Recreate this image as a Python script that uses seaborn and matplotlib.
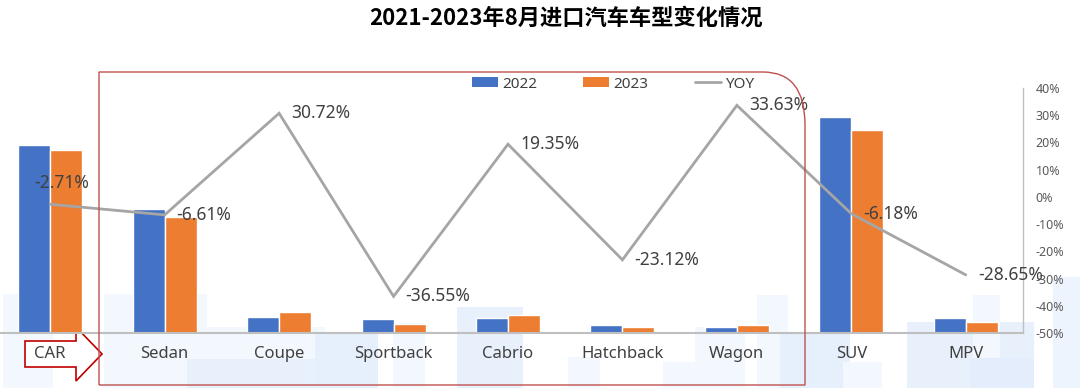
import numpy as np
import pandas as pd
import seaborn as sns
import matplotlib.pyplot as plt
from matplotlib.path import Path
from matplotlib.patches import PathPatch, Polygon, Rectangle, Patch
from matplotlib.lines import Line2D
from matplotlib.ticker import FixedLocator, FuncFormatter

# Chart data
categories = ['CAR', 'Sedan', 'Coupe', 'Sportback', 'Cabrio', 'Hatchback', 'Wagon', 'SUV', 'MPV']
values_2022 = [18.8, 12.4, 1.6, 1.4, 1.5, 0.8, 0.6, 21.6, 1.5]
values_2023 = [18.3, 11.6, 2.1, 0.9, 1.8, 0.6, 0.8, 20.3, 1.1]
yoy = [-2.71, -6.61, 30.72, -36.55, 19.35, -23.12, 33.63, -6.18, -28.65]
years = ['2022', '2023']

BLUE = '#4472C4'
ORANGE = '#ED7D31'
GREY = '#A5A5A5'
TXT = '#404040'

W, H = 1080, 388

sns.set_theme(style='white')
plt.rcParams['font.family'] = ['Noto Sans', 'Noto Sans CJK SC', 'DejaVu Sans']

df = pd.DataFrame({
    'type': categories * 2,
    'value': values_2022 + values_2023,
    'year': [years[0]] * len(categories) + [years[1]] * len(categories),
})

fig = plt.figure(figsize=(W / 100, H / 100), dpi=100)


def fx(px):
    return px / W


def fy(py):
    return 1 - py / H


# faint background blocks (watermark-like)
blocks = [
    (3, 294, 53, 388, '#F3F8FE'), (104, 294, 207, 388, '#F3F8FE'),
    (200, 327, 325, 388, '#F3F8FE'), (187, 359, 315, 388, '#E8F0FC'),
    (315, 333, 378, 388, '#E6EFFC'), (393, 323, 425, 388, '#F3F8FE'),
    (457, 307, 523, 388, '#E8F0FC'), (568, 357, 600, 388, '#F3F8FE'),
    (663, 362, 720, 388, '#F3F8FE'), (695, 327, 745, 388, '#F3F8FE'),
    (757, 295, 788, 388, '#F3F8FE'), (780, 333, 850, 388, '#E6EFFC'),
    (843, 362, 882, 388, '#F3F8FE'), (907, 322, 1034, 388, '#E8F0FC'),
    (973, 295, 1000, 388, '#F3F8FE'), (970, 358, 1034, 388, '#E3EDFB'),
    (1053, 277, 1080, 388, '#EEF4FD'),
]
for x0, y0, x1, y1, c in blocks:
    fig.add_artist(Rectangle((fx(x0), fy(y1)), fx(x1) - fx(x0), fy(y0) - fy(y1),
                             transform=fig.transFigure, facecolor=c, edgecolor='none', zorder=-3))

# arrow around CAR label
arrow_px = [(25, 341), (76, 341), (76, 327), (102, 354), (76, 381), (76, 367), (25, 367)]
fig.add_artist(Polygon([(fx(x), fy(y)) for x, y in arrow_px], closed=True,
                       transform=fig.transFigure, facecolor='white', edgecolor='#C00000',
                       linewidth=1.2, zorder=-2))

# red frame with rounded top-right corner
frame_pts = [(99, 385), (99, 72), (763, 72), (805, 72), (805, 125), (805, 385), (99, 385)]
frame_codes = [Path.MOVETO, Path.LINETO, Path.LINETO, Path.CURVE3, Path.CURVE3, Path.LINETO, Path.LINETO]
fig.add_artist(PathPatch(Path([(fx(x), fy(y)) for x, y in frame_pts], frame_codes),
                         transform=fig.transFigure, facecolor='none', edgecolor='#C0504D',
                         linewidth=1.0, zorder=5))

ax = fig.add_axes([0, fy(333), fx(1023), fy(88) - fy(333)])
ax.patch.set_alpha(0)

sns.barplot(data=df, x='type', y='value', hue='year', palette=[BLUE, ORANGE], saturation=1,
            width=0.56, edgecolor='white', linewidth=1, ax=ax, legend=False)
ax.set_xlim(-0.5 + 7 / 114.4, len(categories) - 0.5)
ax.set_ylim(0, 24.5)
ax.set_xlabel('')
ax.set_ylabel('')
ax.set_yticks([])
ax.tick_params(axis='x', which='major', length=0, pad=9, labelsize=12, labelcolor=TXT)
ax.xaxis.set_minor_locator(FixedLocator(np.arange(0.5, len(categories) - 1, 1)))
ax.tick_params(axis='x', which='minor', length=4, width=1, color='#BFBFBF', direction='out')
for s in ['top', 'left', 'right']:
    ax.spines[s].set_visible(False)
ax.spines['bottom'].set_color('#BFBFBF')
ax.spines['bottom'].set_linewidth(1.5)

# YOY line on secondary axis
ax2 = ax.twinx()
ax2.patch.set_alpha(0)
xpos = np.arange(len(categories))
yoy_frac = np.array(yoy) / 100
ax2.plot(xpos, yoy_frac, color=GREY, linewidth=2, solid_joinstyle='miter')
ax2.set_ylim(-0.5, 0.4)
ax2.yaxis.set_major_locator(FixedLocator(np.arange(-0.5, 0.41, 0.1)))
ax2.yaxis.set_major_formatter(FuncFormatter(lambda v, p: f"{int(round(v * 100))}%"))
ax2.tick_params(axis='y', length=0, pad=9, labelsize=9, labelcolor='#595959')
for s in ['top', 'left', 'bottom']:
    ax2.spines[s].set_visible(False)
ax2.spines['right'].set_color('#BFBFBF')
ax2.spines['right'].set_linewidth(1)

for i, v in enumerate(yoy):
    # CAR label sits above its point, the rest to the right
    off = (-16, 21) if i == 0 else (12, 0)
    ax2.annotate(f"{v:.2f}%", (xpos[i], yoy_frac[i]), xytext=off, textcoords='offset pixels',
                 ha='left', va='center', fontsize=12.5, color=TXT, zorder=6)

handles = [Patch(facecolor=BLUE, edgecolor='none'), Patch(facecolor=ORANGE, edgecolor='none'),
           Line2D([0], [0], color=GREY, linewidth=2)]
fig.legend(handles, years + ['YOY'], loc='center', bbox_to_anchor=(fx(613), fy(84)), ncol=3,
           frameon=False, fontsize=11, labelcolor=TXT, handlelength=1.7, handleheight=0.55,
           handletextpad=0.3, columnspacing=3.0)

fig.text(fx(566), fy(18), '2021-2023年8月进口汽车车型变化情况', ha='center', va='center',
         fontsize=16, fontweight='bold', color='black', family=['Noto Sans CJK SC', 'DejaVu Sans'])

fig.savefig('out.png', dpi=100)
